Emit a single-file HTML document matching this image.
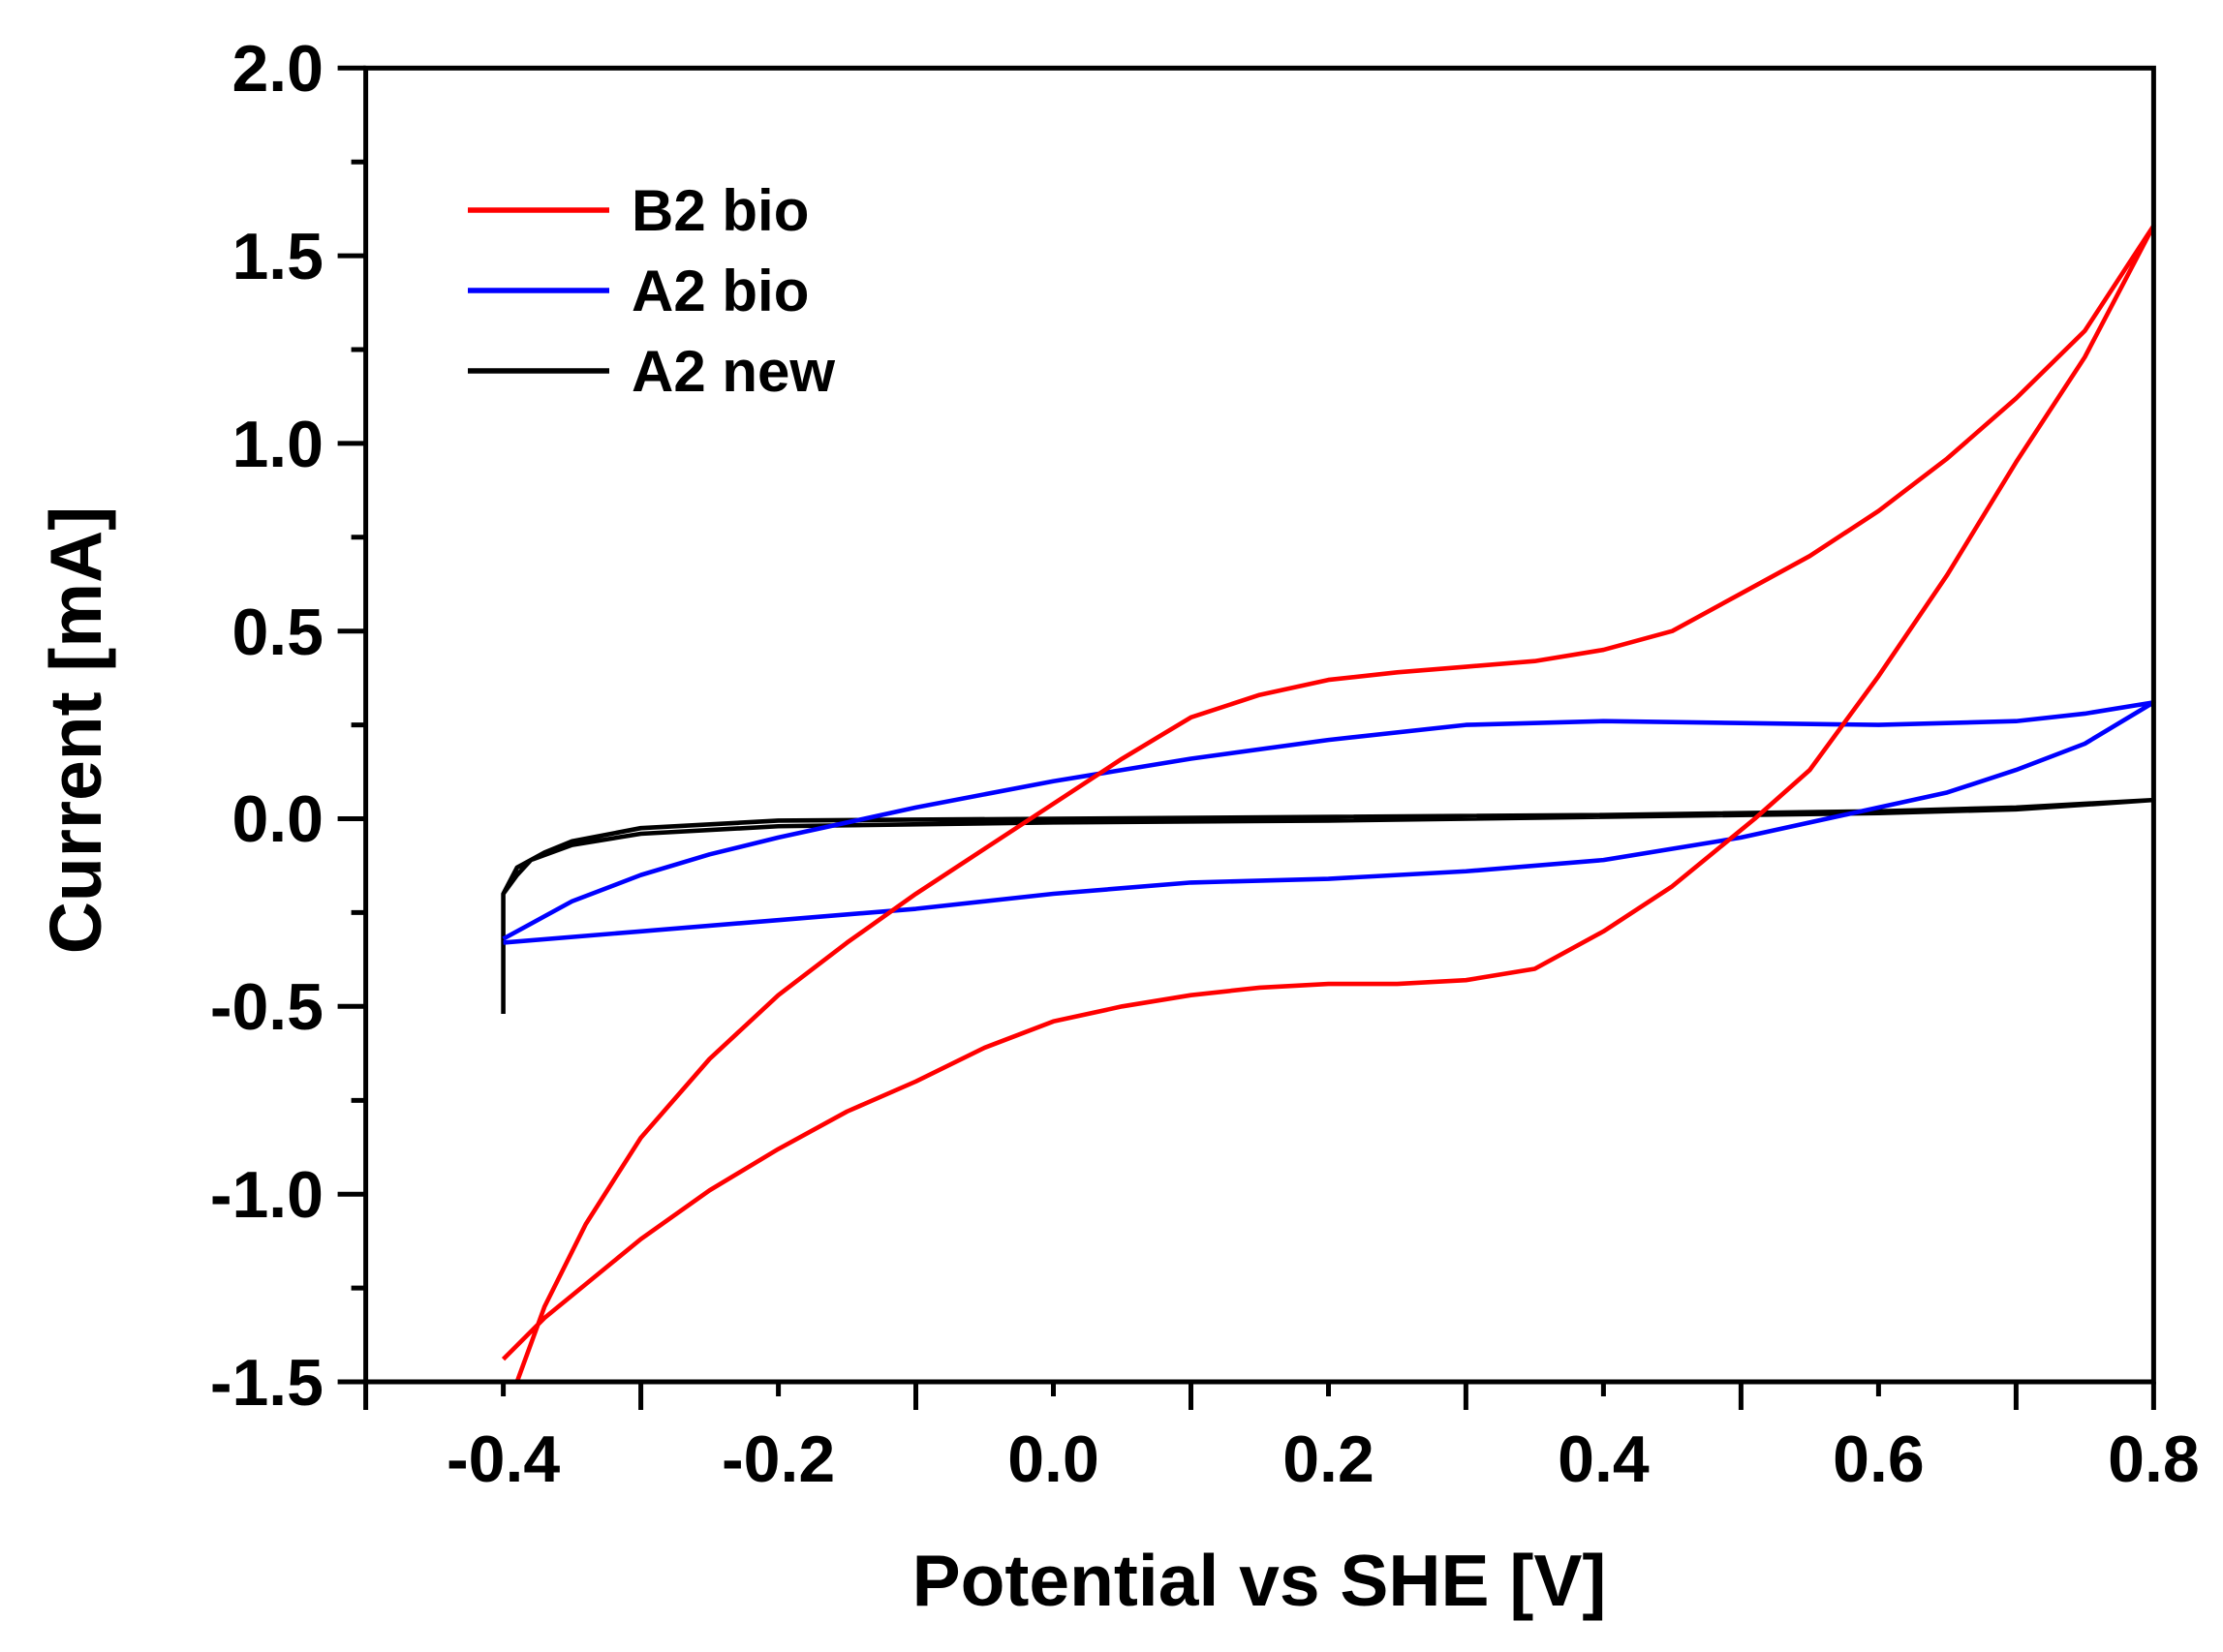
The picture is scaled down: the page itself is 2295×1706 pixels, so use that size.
<!DOCTYPE html>
<html><head><style>html,body{margin:0;padding:0;background:#fff}svg{display:block}</style></head>
<body>
<svg width="2295" height="1706" viewBox="0 0 2295 1706" xmlns="http://www.w3.org/2000/svg" font-family="Liberation Sans, Arial, sans-serif" font-weight="bold">
<rect width="2295" height="1706" fill="#fff"/>
<g transform="translate(1087.5,845.5) scale(1419.8,-387.6)" fill="none" stroke-width="4.6" stroke-linejoin="round">
<polyline vector-effect="non-scaling-stroke" stroke="#000" points="-0.4,-0.52 -0.4,-0.2 -0.39,-0.13 -0.37,-0.09 -0.35,-0.06 -0.3,-0.025 -0.2,-0.005 0,0 0.4,0.01 0.6,0.02 0.7,0.03 0.8,0.05 0.7,0.025 0.6,0.015 0.2,-0.005 0,-0.01 -0.2,-0.02 -0.3,-0.04 -0.35,-0.07 -0.38,-0.11 -0.39,-0.15 -0.4,-0.2"/>
<polyline vector-effect="non-scaling-stroke" stroke="#0000ff" points="-0.4,-0.32 -0.35,-0.22 -0.3,-0.15 -0.25,-0.095 -0.2,-0.05 -0.1,0.03 0,0.1 0.1,0.16 0.2,0.21 0.3,0.25 0.4,0.26 0.5,0.255 0.6,0.25 0.7,0.26 0.75,0.28 0.8,0.31 0.75,0.2 0.7,0.13 0.65,0.07 0.6,0.03 0.5,-0.05 0.4,-0.11 0.3,-0.14 0.2,-0.16 0.1,-0.17 0,-0.2 -0.1,-0.24 -0.2,-0.27 -0.3,-0.3 -0.4,-0.33"/>
<polyline vector-effect="non-scaling-stroke" stroke="#ff0000" points="-0.39,-1.5 -0.37,-1.3 -0.34,-1.08 -0.3,-0.85 -0.25,-0.64 -0.2,-0.47 -0.15,-0.33 -0.1,-0.2 -0.05,-0.08 0,0.04 0.05,0.16 0.1,0.27 0.15,0.33 0.2,0.37 0.25,0.39 0.3,0.405 0.35,0.42 0.4,0.45 0.45,0.5 0.5,0.6 0.55,0.7 0.6,0.82 0.65,0.96 0.7,1.12 0.75,1.3 0.8,1.58 0.75,1.23 0.7,0.95 0.65,0.65 0.6,0.38 0.55,0.13 0.51,0 0.45,-0.18 0.4,-0.3 0.35,-0.4 0.3,-0.43 0.25,-0.44 0.2,-0.44 0.15,-0.45 0.1,-0.47 0.05,-0.5 0,-0.54 -0.05,-0.61 -0.1,-0.7 -0.15,-0.78 -0.2,-0.88 -0.25,-0.99 -0.3,-1.12 -0.35,-1.27 -0.37,-1.33 -0.4,-1.44"/>
</g>
<g stroke="#000" stroke-width="5" fill="none">
<rect x="377.6" y="70.3" width="1845.8" height="1356.7"/>
<path d="M377.6 1427v29M519.6 1427v15M661.6 1427v29M803.6 1427v15M945.5 1427v29M1087.5 1427v15M1229.5 1427v29M1371.5 1427v15M1513.4 1427v29M1655.4 1427v15M1797.4 1427v29M1939.4 1427v15M2081.4 1427v29M2223.4 1427v15M2223.4 1427v29"/>
<path d="M377.6 1427h-29M377.6 1330.1h-15M377.6 1233.3h-29M377.6 1136.4h-15M377.6 1039.3h-29M377.6 942.4h-15M377.6 845.5h-29M377.6 748.6h-15M377.6 651.7h-29M377.6 554.8h-15M377.6 457.9h-29M377.6 361h-15M377.6 264.1h-29M377.6 167.2h-15M377.6 70.3h-29"/>
</g>
<g font-size="68" text-anchor="middle" fill="#000">
<text x="519.6" y="1530">-0.4</text>
<text x="803.6" y="1530">-0.2</text>
<text x="1087.5" y="1530">0.0</text>
<text x="1371.5" y="1530">0.2</text>
<text x="1655.4" y="1530">0.4</text>
<text x="1939.4" y="1530">0.6</text>
<text x="2223.4" y="1530">0.8</text>
</g>
<g font-size="68" text-anchor="end" fill="#000">
<text x="334" y="1451">-1.5</text>
<text x="334" y="1257">-1.0</text>
<text x="334" y="1063">-0.5</text>
<text x="334" y="869">0.0</text>
<text x="334" y="676">0.5</text>
<text x="334" y="482">1.0</text>
<text x="334" y="288">1.5</text>
<text x="334" y="94">2.0</text>
</g>
<text x="1300" y="1658" font-size="75" text-anchor="middle">Potential vs SHE [V]</text>
<text transform="translate(104,754) rotate(-90)" font-size="75" text-anchor="middle">Current [mA]</text>
<g stroke-width="5.5">
<line x1="483" y1="217" x2="629" y2="217" stroke="#ff0000"/>
<line x1="483" y1="300" x2="629" y2="300" stroke="#0000ff"/>
<line x1="483" y1="383" x2="629" y2="383" stroke="#000"/>
</g>
<g font-size="60" fill="#000">
<text x="652" y="238">B2 bio</text>
<text x="652" y="321">A2 bio</text>
<text x="652" y="404">A2 new</text>
</g>
</svg>
</body></html>
